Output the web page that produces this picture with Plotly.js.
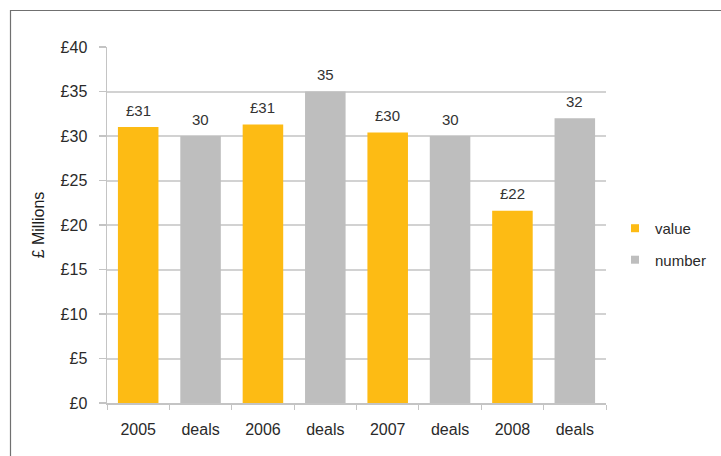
<!DOCTYPE html>
<html>
<head>
<meta charset="utf-8">
<script src="https://cdn.plot.ly/plotly-3.0.1.min.js"></script>
<style>html,body{margin:0;padding:0;background:#fff;}#chart{width:721px;height:456px;}</style>
</head>
<body>
<div id="chart"></div>
<script>
var categories = ["2005", "deals", "2006", "deals", "2007", "deals", "2008", "deals"];
var valueSeries = [31.0, 31.3, 30.4, 21.6];
var valueLabels = ["£31", "£31", "£30", "£22"];
var numberSeries = [30, 35, 30, 32];
var numberLabels = ["30", "35", "30", "32"];
var yTickVals = [0, 5, 10, 15, 20, 25, 30, 35, 40];
var yTickText = ["£0", "£5", "£10", "£15", "£20", "£25", "£30", "£35", "£40"];

var xIdx = categories.map(function (c, i) { return i; });
var valueX = valueSeries.map(function (v, i) { return 2 * i; });
var numberX = numberSeries.map(function (v, i) { return 2 * i + 1; });

var FONT = "Liberation Sans, Arial, sans-serif";
var ORANGE = "#FDBB14", GREY = "#BEBEBE";

var traces = [
  {type: "bar", name: "value", x: valueX, y: valueSeries,
   marker: {color: ORANGE}, width: 0.65, hoverinfo: "none", showlegend: false},
  {type: "bar", name: "number", x: numberX, y: numberSeries,
   marker: {color: GREY}, width: 0.65, hoverinfo: "none", showlegend: false},
  {type: "scatter", mode: "markers", name: "value", x: [null], y: [null], legendgroup: "a",
   marker: {symbol: "square", size: 8, color: ORANGE}},
  {type: "scatter", mode: "markers", name: "number", x: [null], y: [null], legendgroup: "b",
   marker: {symbol: "square", size: 8, color: GREY}}
];

var annotations = [];
valueSeries.forEach(function (v, i) {
  annotations.push({x: valueX[i], y: v, text: valueLabels[i], showarrow: false,
    xref: "x", yref: "y", yanchor: "middle", yshift: 17,
    font: {family: FONT, size: 15, color: "#333"}});
});
numberSeries.forEach(function (v, i) {
  annotations.push({x: numberX[i], y: v, text: numberLabels[i], showarrow: false,
    xref: "x", yref: "y", yanchor: "middle", yshift: 17,
    font: {family: FONT, size: 15, color: "#333"}});
});

var L = 107, R = 606, T = 47, B = 403;
var pw = R - L, ph = B - T;

var layout = {
  width: 721, height: 456,
  margin: {l: L, r: 721 - R, t: T, b: 456 - B, pad: 0},
  paper_bgcolor: "#fff", plot_bgcolor: "#fff",
  barmode: "overlay",
  showlegend: true,
  font: {family: FONT, color: "#333", size: 15},
  annotations: annotations,
  xaxis: {
    range: [-0.5, 7.5], tickvals: xIdx, ticktext: categories, ticks: "",
    tickfont: {size: 16, color: "#2a2a2a"}, ticklabelstandoff: 11,
    showgrid: false, zeroline: false, showline: true, linecolor: "#c4c4c4", linewidth: 1.5,
    minor: {tick0: -0.5, dtick: 1, ticks: "outside", ticklen: 5, tickcolor: "#c4c4c4", showgrid: false},
    fixedrange: true
  },
  yaxis: {
    range: [0, 40], tickvals: yTickVals, ticktext: yTickText,
    ticks: "outside", ticklen: 7, tickcolor: "#c4c4c4", tickwidth: 1.5,
    tickfont: {size: 16, color: "#2a2a2a"}, ticklabelstandoff: 8,
    showgrid: true, gridcolor: "#d2d2d2", gridwidth: 2,
    zeroline: false, showline: true, linecolor: "#c4c4c4", linewidth: 1.5,
    title: {text: "£ Millions", font: {size: 16, color: "#1e1e1e"}, standoff: 12},
    fixedrange: true
  },
  legend: {
    xref: "container", yref: "container", x: 0.853, y: 0.465, xanchor: "left", yanchor: "middle",
    font: {size: 15, color: "#2a2a2a"}, itemwidth: 30, traceorder: "grouped", tracegroupgap: 9,
    bgcolor: "rgba(0,0,0,0)"
  },
  shapes: [{
    type: "rect", xref: "paper", yref: "paper",
    x0: (10.5 - L) / pw, x1: (730 - L) / pw,
    y0: (B - 465) / ph, y1: (B - 10.5) / ph,
    line: {color: "#707070", width: 1.2}, fillcolor: "rgba(0,0,0,0)", layer: "below"
  }]
};

Plotly.newPlot("chart", traces, layout, {staticPlot: true, displayModeBar: false});
</script>
</body>
</html>
